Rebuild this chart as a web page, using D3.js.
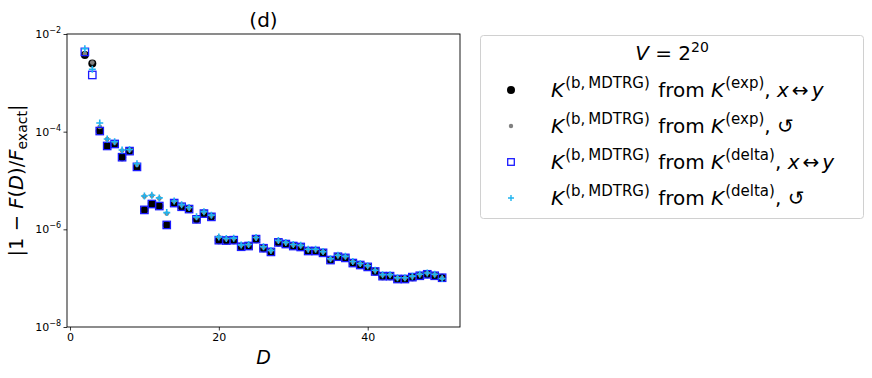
<!DOCTYPE html>
<html>
<head>
<meta charset="utf-8">
<script src="https://cdn.jsdelivr.net/npm/d3@7"></script>
<style>
  body { margin: 0; background: #fff; }
  svg { font-family: "DejaVu Sans", sans-serif; }
</style>
</head>
<body>
<script>
// bond dimension D
var dims = [2, 3, 4, 5, 6, 7, 8, 9, 10, 11, 12, 13, 14, 15, 16, 17, 18, 19, 20,
  21, 22, 23, 24, 25, 26, 27, 28, 29, 30, 31, 32, 33, 34, 35, 36, 37, 38, 39, 40,
  41, 42, 43, 44, 45, 46, 47, 48, 49, 50];

// K(exp), x<->y   (black dots)
var expSwap = [3.7e-3, 2.5e-3, 1.03e-4, 5.1e-5, 5.6e-5, 3.0e-5, 4.0e-5, 1.9e-5, 2.5e-6,
  3.3e-6, 3.0e-6, 1.23e-6, 3.45e-6, 2.9e-6, 2.6e-6, 1.6e-6, 2.1e-6, 1.8e-6, 6.0e-7,
  5.9e-7, 6.0e-7, 4.4e-7, 4.55e-7, 6.3e-7, 4.1e-7, 3.45e-7, 5.4e-7, 5.0e-7, 4.55e-7,
  4.35e-7, 3.6e-7, 3.6e-7, 3.3e-7, 2.35e-7, 2.75e-7, 2.6e-7, 2.04e-7, 1.86e-7, 1.7e-7,
  1.37e-7, 1.1e-7, 1.1e-7, 9.6e-8, 9.6e-8, 1.05e-7, 1.12e-7, 1.2e-7, 1.12e-7, 1.02e-7];

// K(exp), rotation   (grey points)
var expRot = [3.9e-3, 2.6e-3, 1.25e-4, 7.0e-5, 6.0e-5, 4.1e-5, 4.2e-5, 2.1e-5, 4.7e-6,
  4.9e-6, 4.3e-6, 2.1e-6, 3.75e-6, 3.15e-6, 2.75e-6, 1.75e-6, 2.25e-6, 1.9e-6, 6.9e-7,
  6.4e-7, 6.5e-7, 4.7e-7, 4.8e-7, 6.7e-7, 4.3e-7, 3.65e-7, 5.8e-7, 5.3e-7, 4.8e-7,
  4.6e-7, 3.85e-7, 3.85e-7, 3.45e-7, 2.45e-7, 2.9e-7, 2.75e-7, 2.15e-7, 1.95e-7, 1.78e-7,
  1.43e-7, 1.16e-7, 1.16e-7, 1.0e-7, 1.0e-7, 1.08e-7, 1.18e-7, 1.26e-7, 1.18e-7, 1.0e-7];

// K(delta), x<->y   (blue squares)
var deltaSwap = [4.3e-3, 1.45e-3, 1.03e-4, 5.1e-5, 5.6e-5, 3.0e-5, 4.0e-5, 1.9e-5, 2.5e-6,
  3.3e-6, 3.0e-6, 1.23e-6, 3.45e-6, 2.9e-6, 2.6e-6, 1.6e-6, 2.1e-6, 1.8e-6, 6.0e-7,
  5.9e-7, 6.0e-7, 4.4e-7, 4.55e-7, 6.3e-7, 4.1e-7, 3.45e-7, 5.4e-7, 5.0e-7, 4.55e-7,
  4.35e-7, 3.6e-7, 3.6e-7, 3.3e-7, 2.35e-7, 2.75e-7, 2.6e-7, 2.04e-7, 1.86e-7, 1.7e-7,
  1.37e-7, 1.1e-7, 1.1e-7, 9.6e-8, 9.6e-8, 1.05e-7, 1.12e-7, 1.2e-7, 1.12e-7, 1.02e-7];

// K(delta), rotation   (cyan plus)
var deltaRot = [5.0e-3, 1.9e-3, 1.5e-4, 7.1e-5, 6.2e-5, 4.2e-5, 4.3e-5, 2.2e-5, 4.8e-6,
  5.0e-6, 4.4e-6, 2.2e-6, 3.8e-6, 3.2e-6, 2.8e-6, 1.8e-6, 2.3e-6, 1.95e-6, 7.0e-7,
  6.5e-7, 6.6e-7, 4.8e-7, 4.9e-7, 6.8e-7, 4.4e-7, 3.7e-7, 5.9e-7, 5.4e-7, 4.9e-7,
  4.7e-7, 3.9e-7, 3.9e-7, 3.5e-7, 2.5e-7, 2.95e-7, 2.8e-7, 2.2e-7, 2.0e-7, 1.8e-7,
  1.45e-7, 1.18e-7, 1.18e-7, 1.02e-7, 1.02e-7, 1.1e-7, 1.2e-7, 1.28e-7, 1.2e-7, 9.8e-8];

var xTicks = [0, 20, 40];
var yTicks = [1e-8, 1e-6, 1e-4, 1e-2];

var svgWidth = 872;
var svgHeight = 378;

var margin = {top: 34, bottom: 51, left: 67, right: 412};
var chartWidth = svgWidth - margin.left - margin.right;
var chartHeight = svgHeight - margin.top - margin.bottom;

var svg = d3.select('body')
  .append('svg')
  .attr('width', svgWidth)
  .attr('height', svgHeight);

var chart = svg.append('g')
  .attr('transform', `translate(${margin.left},${margin.top})`);

var x = d3.scaleLinear().domain([-0.4, 52.4]).range([0, chartWidth]);
var y = d3.scaleLog().domain([1e-8, 1e-2]).range([chartHeight, 0]);

// axes
var xAxis = chart.append('g')
  .attr('transform', `translate(0,${chartHeight})`)
  .call(d3.axisBottom(x).tickValues(xTicks).tickSize(3.5).tickPadding(3));
var yAxis = chart.append('g')
  .call(d3.axisLeft(y).tickValues(yTicks).tickSize(3.5).tickPadding(3).tickFormat(''));

[xAxis, yAxis].forEach(a => {
  a.select('.domain').remove();
  a.selectAll('line').attr('stroke', '#000').attr('stroke-width', 0.8);
});
xAxis.selectAll('text').attr('font-size', 11).attr('fill', '#000')
  .attr('font-family', 'DejaVu Sans');

yAxis.selectAll('.tick').each(function(d) {
  var t = d3.select(this).append('text')
    .attr('x', -6).attr('dy', '0.32em')
    .attr('text-anchor', 'end')
    .attr('fill', '#000')
    .attr('font-size', 11)
    .attr('font-family', 'DejaVu Sans');
  t.append('tspan').text('10');
  t.append('tspan').attr('dy', -5).attr('font-size', 8)
    .text('\u2212' + Math.round(-Math.log10(d)));
});

// frame
chart.append('rect')
  .attr('width', chartWidth).attr('height', chartHeight)
  .attr('fill', 'none').attr('stroke', '#000').attr('stroke-width', 0.9);

var plot = chart.append('g');

// black circles
plot.selectAll('.c1').data(dims).enter().append('circle')
  .attr('cx', d => x(d)).attr('cy', (d, i) => y(expSwap[i]))
  .attr('r', 4).attr('fill', '#000');

// grey points
plot.selectAll('.c2').data(dims).enter().append('circle')
  .attr('cx', d => x(d)).attr('cy', (d, i) => y(expRot[i]))
  .attr('r', 2.4).attr('fill', '#808080');

// blue squares
plot.selectAll('.sq').data(dims).enter().append('rect')
  .attr('x', d => x(d) - 3.7).attr('y', (d, i) => y(deltaSwap[i]) - 3.7)
  .attr('width', 7.4).attr('height', 7.4)
  .attr('fill', 'none').attr('stroke', '#1a1aff').attr('stroke-width', 1.3);

// cyan plus
var plusPath = 'M-3.5,0H3.5M0,-3.5V3.5';
plot.selectAll('.pl').data(dims).enter().append('path')
  .attr('transform', (d, i) => `translate(${x(d)},${y(deltaRot[i])})`)
  .attr('d', plusPath)
  .attr('stroke', '#1fb4f0').attr('stroke-width', 1.6).attr('fill', 'none');

// titles
svg.append('text')
  .attr('x', margin.left + chartWidth / 2).attr('y', 27)
  .attr('text-anchor', 'middle').attr('font-size', 20).attr('fill', '#000')
  .text('(d)');

svg.append('text')
  .attr('x', margin.left + chartWidth / 2).attr('y', 364)
  .attr('text-anchor', 'middle').attr('font-size', 19).attr('font-style', 'italic')
  .text('D');

var yl = svg.append('text')
  .attr('transform', `translate(23,${margin.top + chartHeight / 2}) rotate(-90)`)
  .attr('text-anchor', 'middle').attr('font-size', 19.5).attr('fill', '#000');
yl.append('tspan').text('|1 \u2212 ');
yl.append('tspan').attr('font-style', 'italic').text('F');
yl.append('tspan').text('(');
yl.append('tspan').attr('font-style', 'italic').text('D');
yl.append('tspan').text(')/');
yl.append('tspan').attr('font-style', 'italic').text('F');
yl.append('tspan').attr('dy', 4).attr('font-size', 14).text('exact');
yl.append('tspan').attr('dy', -4).text('|');

// legend
var legend = svg.append('g');
legend.append('rect')
  .attr('x', 480.5).attr('y', 35.5).attr('width', 383).attr('height', 183)
  .attr('rx', 3).attr('fill', '#fff').attr('stroke', '#d0d0d0').attr('stroke-width', 1);

var lt = legend.append('text')
  .attr('x', 672).attr('y', 60).attr('text-anchor', 'middle')
  .attr('font-size', 20).attr('fill', '#000');
lt.append('tspan').attr('font-style', 'italic').text('V');
lt.append('tspan').text(' = 2');
lt.append('tspan').attr('dy', -8).attr('font-size', 14).text('20');

var legendSources = ['exp', 'exp', 'delta', 'delta'];
var legendOps = ['swap', 'rot', 'swap', 'rot'];
var legendY = [97, 133, 169, 205];

legendSources.forEach((src, i) => {
  var t = legend.append('text')
    .attr('x', 551).attr('y', legendY[i])
    .attr('font-size', 20).attr('fill', '#000');
  t.append('tspan').attr('font-style', 'italic').text('K');
  t.append('tspan').attr('dy', -9).attr('dx', 1).attr('font-size', 15).text('(b,\u2009MDTRG)');
  t.append('tspan').attr('dy', 9).attr('dx', 2).text(' from ');
  t.append('tspan').attr('font-style', 'italic').text('K');
  t.append('tspan').attr('dy', -9).attr('dx', 1).attr('font-size', 15).text('(' + src + ')');
  t.append('tspan').attr('dy', 9).text(', ');
  if (legendOps[i] === 'swap') {
    t.append('tspan').attr('font-style', 'italic').text('x');
    t.append('tspan').attr('dx', 3).text('\u2194');
    t.append('tspan').attr('dx', 3).attr('font-style', 'italic').text('y');
  } else {
    t.append('tspan').text('\u21ba');
  }
});

var mx = 511;
legend.append('circle').attr('cx', mx).attr('cy', legendY[0] - 7).attr('r', 4).attr('fill', '#000');
legend.append('circle').attr('cx', mx).attr('cy', legendY[1] - 7).attr('r', 2.2).attr('fill', '#808080');
legend.append('rect').attr('x', mx - 3.3).attr('y', legendY[2] - 10.3).attr('width', 6.6).attr('height', 6.6)
  .attr('fill', 'none').attr('stroke', '#1a1aff').attr('stroke-width', 1.3);
legend.append('path').attr('transform', `translate(${mx},${legendY[3] - 7})`)
  .attr('d', 'M-3,0H3M0,-3V3').attr('stroke', '#1fb4f0').attr('stroke-width', 1.4);
</script>
</body>
</html>
